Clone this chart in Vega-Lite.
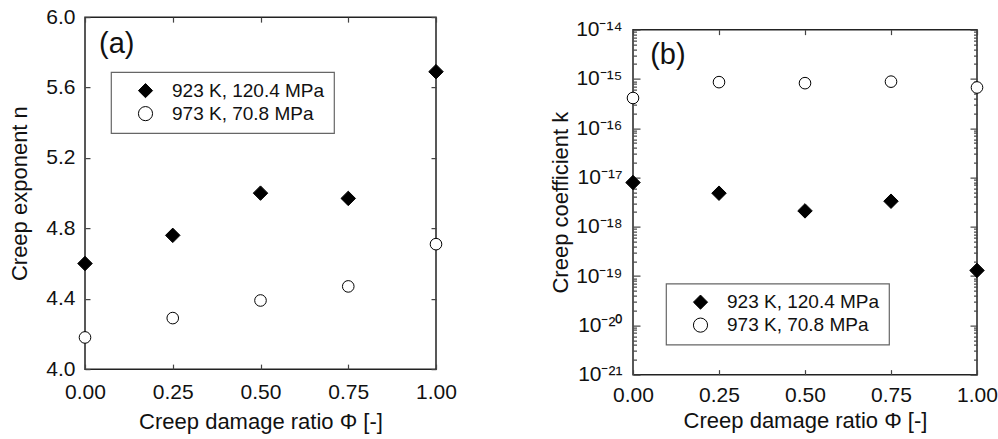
{
  "$schema": "https://vega.github.io/schema/vega-lite/v6.json",
  "padding": {"left": 8, "top": 5, "right": 5, "bottom": 5},
  "spacing": 90,
  "center": true,
  "background": "white",
  "config": {
    "font": "Liberation Sans",
    "view": {"stroke": "#222", "strokeWidth": 1.5},
    "axis": {
      "grid": false,
      "domain": false,
      "tickSize": -5,
      "tickColor": "#444",
      "tickWidth": 1.2,
      "labelFlush": false,
      "labelFont": "Liberation Sans",
      "labelFontSize": 21,
      "labelColor": "#111",
      "titleFont": "Liberation Sans",
      "titleFontSize": 22,
      "titleFontWeight": "normal",
      "titleColor": "#111"
    },
    "legend": {
      "orient": "none",
      "strokeColor": "#666",
      "strokeWidth": 1.2,
      "fillColor": "white",
      "padding": 9,
      "labelFont": "Liberation Sans",
      "labelFontSize": 19,
      "labelColor": "#111",
      "symbolStrokeWidth": 1,
      "symbolSize": 200,
      "symbolOffset": 16,
      "labelOffset": 17,
      "rowPadding": 3
    }
  },
  "datasets": {
    "a": [
      {"phi": 0.0, "val": 4.60, "series": "923 K, 120.4 MPa"},
      {"phi": 0.25, "val": 4.76, "series": "923 K, 120.4 MPa"},
      {"phi": 0.5, "val": 5.00, "series": "923 K, 120.4 MPa"},
      {"phi": 0.75, "val": 4.97, "series": "923 K, 120.4 MPa"},
      {"phi": 1.0, "val": 5.69, "series": "923 K, 120.4 MPa"},
      {"phi": 0.0, "val": 4.18, "series": "973 K, 70.8 MPa"},
      {"phi": 0.25, "val": 4.29, "series": "973 K, 70.8 MPa"},
      {"phi": 0.5, "val": 4.39, "series": "973 K, 70.8 MPa"},
      {"phi": 0.75, "val": 4.47, "series": "973 K, 70.8 MPa"},
      {"phi": 1.0, "val": 4.71, "series": "973 K, 70.8 MPa"}
    ],
    "b": [
      {"phi": 0.0, "val": 7.9e-18, "series": "923 K, 120.4 MPa"},
      {"phi": 0.25, "val": 4.8e-18, "series": "923 K, 120.4 MPa"},
      {"phi": 0.5, "val": 2.1e-18, "series": "923 K, 120.4 MPa"},
      {"phi": 0.75, "val": 3.3e-18, "series": "923 K, 120.4 MPa"},
      {"phi": 1.0, "val": 1.3e-19, "series": "923 K, 120.4 MPa"},
      {"phi": 0.0, "val": 4.1e-16, "series": "973 K, 70.8 MPa"},
      {"phi": 0.25, "val": 8.6e-16, "series": "973 K, 70.8 MPa"},
      {"phi": 0.5, "val": 8.2e-16, "series": "973 K, 70.8 MPa"},
      {"phi": 0.75, "val": 8.8e-16, "series": "973 K, 70.8 MPa"},
      {"phi": 1.0, "val": 6.7e-16, "series": "973 K, 70.8 MPa"}
    ],
    "labels": [
      {"panel": "a", "x": 0.04, "y": 5.85, "t": "(a)"},
      {"panel": "b", "x": 0.05, "y": 3.1e-15, "t": "(b)"}
    ]
  },
  "resolve": {
    "scale": {"shape": "independent", "color": "independent"},
    "legend": {"shape": "independent", "color": "independent"}
  },
  "hconcat": [
    {
      "width": 351,
      "height": 352,
      "data": {"name": "a"},
      "resolve": {"axis": {"x": "independent", "y": "independent"}},
      "layer": [
        {
          "mark": {"type": "point", "filled": true, "strokeWidth": 1, "opacity": 1},
          "encoding": {
            "x": {"field": "phi", "type": "quantitative", "scale": {"domain": [0, 1], "nice": false},
                  "axis": {"values": [0, 0.25, 0.5, 0.75, 1], "format": ".2f", "labelPadding": 17, "title": ["Creep damage ratio Φ [-]", " "], "titleLineHeight": 12, "titlePadding": 9}},
            "y": {"field": "val", "type": "quantitative", "scale": {"domain": [4, 6], "nice": false, "zero": false},
                  "axis": {"values": [4, 4.4, 4.8, 5.2, 5.6, 6], "format": ".1f", "labelPadding": 15, "title": "Creep exponent n", "titlePadding": 14}},
            "shape": {"field": "series", "type": "nominal", "scale": {"domain": ["923 K, 120.4 MPa", "973 K, 70.8 MPa"], "range": ["diamond", "circle"]},
                      "legend": {"title": null, "legendX": 26, "legendY": 55}},
            "color": {"field": "series", "type": "nominal", "scale": {"domain": ["923 K, 120.4 MPa", "973 K, 70.8 MPa"], "range": ["black", "white"]},
                      "legend": {"title": null, "legendX": 26, "legendY": 55}},
            "stroke": {"value": "black"},
            "size": {"field": "series", "type": "nominal", "scale": {"domain": ["923 K, 120.4 MPa", "973 K, 70.8 MPa"], "range": [210, 135]}, "legend": null}
          }
        },
        {
          "mark": {"type": "point", "opacity": 0},
          "encoding": {
            "x": {"field": "phi", "type": "quantitative", "scale": {"domain": [0, 1], "nice": false},
                  "axis": {"orient": "top", "values": [0, 0.25, 0.5, 0.75, 1], "labels": false, "title": null}},
            "y": {"field": "val", "type": "quantitative", "scale": {"domain": [4, 6], "nice": false, "zero": false},
                  "axis": {"orient": "right", "values": [4, 4.4, 4.8, 5.2, 5.6, 6], "labels": false, "title": null}}
          }
        },
        {
          "data": {"name": "labels"},
          "transform": [{"filter": "datum.panel == 'a'"}],
          "mark": {"type": "text", "align": "left", "baseline": "middle", "fontSize": 29, "font": "Liberation Sans", "color": "#111"},
          "encoding": {
            "x": {"field": "x", "type": "quantitative", "axis": null},
            "y": {"field": "y", "type": "quantitative", "axis": null},
            "text": {"field": "t"}
          }
        }
      ]
    },
    {
      "width": 344,
      "height": 345,
      "data": {"name": "b"},
      "resolve": {"axis": {"x": "independent", "y": "independent"}},
      "layer": [
        {
          "mark": {"type": "point", "filled": true, "strokeWidth": 1, "opacity": 1},
          "encoding": {
            "x": {"field": "phi", "type": "quantitative", "scale": {"domain": [0, 1], "nice": false},
                  "axis": {"values": [0, 0.25, 0.5, 0.75, 1], "format": ".2f", "labelPadding": 15, "title": "Creep damage ratio Φ [-]", "titlePadding": 5}},
            "y": {"field": "val", "type": "quantitative", "scale": {"type": "log", "domain": [1e-21, 1e-14], "nice": false},
                  "axis": {"values": [1e-21, 1e-20, 1e-19, 1e-18, 1e-17, 1e-16, 1e-15, 1e-14], "tickSize": -7,
                           "labelExpr": "'10⁻' + substring('⁰¹²³⁴⁵⁶⁷⁸⁹', floor(-round(log(datum.value)/LN10)/10), floor(-round(log(datum.value)/LN10)/10)+1) + substring('⁰¹²³⁴⁵⁶⁷⁸⁹', (-round(log(datum.value)/LN10))%10, (-round(log(datum.value)/LN10))%10+1)",
                           "labelPadding": 18, "title": "Creep coefficient k", "titlePadding": 3}},
            "shape": {"field": "series", "type": "nominal", "scale": {"domain": ["923 K, 120.4 MPa", "973 K, 70.8 MPa"], "range": ["diamond", "circle"]},
                      "legend": {"title": null, "legendX": 33, "legendY": 254}},
            "color": {"field": "series", "type": "nominal", "scale": {"domain": ["923 K, 120.4 MPa", "973 K, 70.8 MPa"], "range": ["black", "white"]},
                      "legend": {"title": null, "legendX": 33, "legendY": 254}},
            "stroke": {"value": "black"},
            "size": {"field": "series", "type": "nominal", "scale": {"domain": ["923 K, 120.4 MPa", "973 K, 70.8 MPa"], "range": [210, 135]}, "legend": null}
          }
        },
        {
          "mark": {"type": "point", "opacity": 0},
          "encoding": {
            "x": {"field": "phi", "type": "quantitative", "scale": {"domain": [0, 1], "nice": false},
                  "axis": {"orient": "top", "values": [0, 0.25, 0.5, 0.75, 1], "labels": false, "title": null}},
            "y": {"field": "val", "type": "quantitative", "scale": {"type": "log", "domain": [1e-21, 1e-14], "nice": false},
                  "axis": {"orient": "right", "values": [1e-21, 1e-20, 1e-19, 1e-18, 1e-17, 1e-16, 1e-15, 1e-14], "tickSize": -7, "labels": false, "title": null}}
          }
        },
        {
          "mark": {"type": "point", "opacity": 0},
          "encoding": {
            "x": {"field": "phi", "type": "quantitative", "scale": {"domain": [0, 1], "nice": false}, "axis": null},
            "y": {"field": "val", "type": "quantitative", "scale": {"type": "log", "domain": [1e-21, 1e-14], "nice": false},
                  "axis": {"orient": "left", "tickSize": -3.5, "labels": false, "title": null,
                           "values": [2e-21,3e-21,4e-21,5e-21,6e-21,7e-21,8e-21,9e-21,2e-20,3e-20,4e-20,5e-20,6e-20,7e-20,8e-20,9e-20,2e-19,3e-19,4e-19,5e-19,6e-19,7e-19,8e-19,9e-19,2e-18,3e-18,4e-18,5e-18,6e-18,7e-18,8e-18,9e-18,2e-17,3e-17,4e-17,5e-17,6e-17,7e-17,8e-17,9e-17,2e-16,3e-16,4e-16,5e-16,6e-16,7e-16,8e-16,9e-16,2e-15,3e-15,4e-15,5e-15,6e-15,7e-15,8e-15,9e-15]}}
          }
        },
        {
          "mark": {"type": "point", "opacity": 0},
          "encoding": {
            "x": {"field": "phi", "type": "quantitative", "scale": {"domain": [0, 1], "nice": false}, "axis": null},
            "y": {"field": "val", "type": "quantitative", "scale": {"type": "log", "domain": [1e-21, 1e-14], "nice": false},
                  "axis": {"orient": "right", "tickSize": -3.5, "labels": false, "title": null,
                           "values": [2e-21,3e-21,4e-21,5e-21,6e-21,7e-21,8e-21,9e-21,2e-20,3e-20,4e-20,5e-20,6e-20,7e-20,8e-20,9e-20,2e-19,3e-19,4e-19,5e-19,6e-19,7e-19,8e-19,9e-19,2e-18,3e-18,4e-18,5e-18,6e-18,7e-18,8e-18,9e-18,2e-17,3e-17,4e-17,5e-17,6e-17,7e-17,8e-17,9e-17,2e-16,3e-16,4e-16,5e-16,6e-16,7e-16,8e-16,9e-16,2e-15,3e-15,4e-15,5e-15,6e-15,7e-15,8e-15,9e-15]}}
          }
        },
        {
          "data": {"name": "labels"},
          "transform": [{"filter": "datum.panel == 'b'"}],
          "mark": {"type": "text", "align": "left", "baseline": "middle", "fontSize": 29, "font": "Liberation Sans", "color": "#111"},
          "encoding": {
            "x": {"field": "x", "type": "quantitative", "axis": null},
            "y": {"field": "y", "type": "quantitative", "scale": {"type": "log"}, "axis": null},
            "text": {"field": "t"}
          }
        }
      ]
    }
  ]
}
